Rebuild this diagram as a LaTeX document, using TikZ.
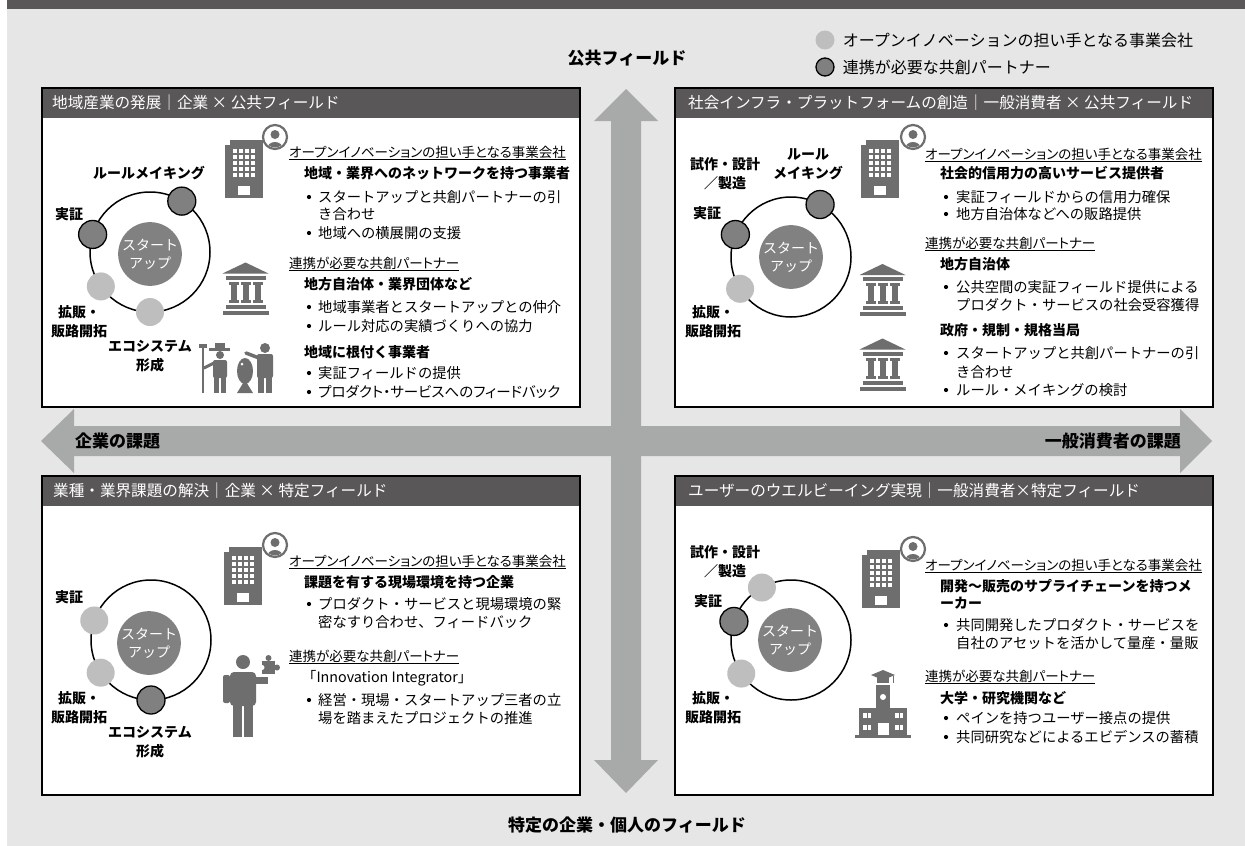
\documentclass[tikz,border=0pt]{standalone}
\usepackage{fontspec}
\setmainfont{Noto Sans CJK JP}
\newfontfamily\propjp{Noto Sans CJK JP}[RawFeature=+palt]
\usepackage{tikz}
\usetikzlibrary{positioning}

\definecolor{bandgray}{HTML}{595757}
\definecolor{fieldgray}{HTML}{E6E6E6}
\definecolor{axisgray}{HTML}{A8A9A9}
\definecolor{icongray}{HTML}{6E6E6E}
\definecolor{partnergray}{HTML}{808080}
\definecolor{bearergray}{HTML}{BEBEBE}
\definecolor{coregray}{HTML}{818181}

\newcommand{\pts}[2]{\fontsize{#1}{#2}\selectfont}

% small icons used in several panels
\tikzset{
    office/.pic={
        \fill[icongray] (-19,-24) rectangle (19,29);
        \fill[icongray] (-14,-29) rectangle (19,-24);
        \foreach \c in {-11,-5,1,7}
            \foreach \r in {-20,-14,-8,-2,4}
                \fill[white] (\c,\r) rectangle ++(4,4);
        \fill[white] (-6,17) rectangle (6,26);
    },
    badge/.pic={
        \draw[icongray, line width=2.2pt, fill=white] (0,0) circle (12);
        \begin{scope}
            \clip (0,0) circle (10.5);
            \fill[icongray] (0,-2.5) circle (4.5);
            \fill[icongray] (0,12) ellipse (8 and 7);
        \end{scope}
    },
    govhall/.pic={
        \fill[icongray] (0,-26) -- (23,-15) -- (-23,-15) -- cycle;
        \fill[icongray] (-20,-13) rectangle (20,-9);
        \foreach \c in {-12,0,12} {
            \fill[icongray] (\c-5,-7) rectangle (\c+5,-4);
            \fill[icongray] (\c-3,-4) rectangle (\c+3,11);
            \fill[icongray] (\c-5,11) rectangle (\c+5,14);
        }
        \fill[icongray] (-20,16) rectangle (20,20);
        \fill[icongray] (-23,22) rectangle (23,26);
    }
}

\begin{document}
\begin{tikzpicture}[
    x=1pt, y=-1pt,
    panel/.style={draw=black, line width=1.5pt, fill=white, minimum width=538pt, minimum height=319pt, inner sep=0pt, outer sep=0pt, anchor=north west},
    bandtext/.style={anchor=west, text=white, font=\pts{15.6}{19}, inner sep=0pt},
    ring/.style={circle, draw=black, line width=1.5pt, minimum size=120pt, inner sep=0pt, outer sep=0pt},
    partner/.style={circle, draw=black, line width=1.3pt, fill=partnergray, minimum size=28pt, inner sep=0pt},
    bearer/.style={circle, fill=bearergray, minimum size=28pt, inner sep=0pt},
    core/.style={circle, fill=coregray, text=white, minimum size=57pt, inner sep=0pt, align=center, font=\pts{14}{18}},
    stage/.style={align=center, font=\bfseries\pts{14}{19}, inner sep=0pt},
    role/.style={anchor=west, inner sep=0pt, font=\propjp\pts{13.5}{17}},
    lead/.style={anchor=west, inner sep=0pt, font=\bfseries\pts{14}{17}},
    item/.style={anchor=west, inner sep=0pt, font=\pts{14.3}{17}},
    bul/.style={circle, fill=black, minimum size=4.2pt, inner sep=0pt},
    axislabel/.style={font=\bfseries\pts{17}{20}, inner sep=0pt},
    legend/.style={font=\pts{16}{19}, inner sep=0pt}
]
    \useasboundingbox (0,0) rectangle (1245,846);
    \fill[fieldgray] (7,9) rectangle (1245,846);
    \fill[bandgray] (7,0) rectangle (1245,9);

    % axes
    \fill[axisgray] (626,89) -- (658,121) -- (641,121) -- (641,760) -- (658,760) -- (626,793)
        -- (594,760) -- (611,760) -- (611,121) -- (594,121) -- cycle;
    \fill[axisgray] (41,441) -- (74,409) -- (74,426) -- (1180,426) -- (1180,409) -- (1212,441)
        -- (1180,473) -- (1180,456) -- (74,456) -- (74,473) -- cycle;

    \node[axislabel] (ax-top) at (627,58) {公共フィールド};
    \node[axislabel] (ax-bottom) at (627,825) {特定の企業・個人のフィールド};
    \node[axislabel, anchor=west] (ax-left) at (75,441) {企業の課題};
    \node[axislabel, anchor=east] (ax-right) at (1181,441) {一般消費者の課題};

    % legend
    \node[bearer, minimum size=19pt] (leg-bearer) at (825,40) {};
    \node[partner, minimum size=18pt] (leg-partner) at (825,67) {};
    \node[legend, right=8pt of leg-bearer] (leg-bearer-text) {オープンイノベーションの担い手となる事業会社};
    \node[legend, right=8pt of leg-partner] (leg-partner-text) {連携が必要な共創パートナー};

    % ---------- top left ----------
    \node[panel] (tl) at (42,88) {};
    \fill[bandgray] (42,88) rectangle (580,118);
    \draw[line width=1.5pt] (tl.north west) rectangle (tl.south east);
    \node[bandtext] (tl-title) at (52,103) {地域産業の発展｜企業 × 公共フィールド};

    \node[ring] (tl-ring) at (150,252) {};
    \node[core] (tl-core) at (150,254) {スタート\\アップ};
    \node[partner] (tl-demo) at (tl-ring.163) {};
    \node[partner] (tl-rule) at (tl-ring.58) {};
    \node[bearer] (tl-sales) at (tl-ring.215) {};
    \node[bearer] (tl-eco) at (tl-ring.270) {};
    \node[stage] (tl-demo-l) at (69,214) {実証};
    \node[stage] (tl-rule-l) at (149,173) {ルールメイキング};
    \node[stage] (tl-sales-l) at (79,322) {拡販・\\販路開拓};
    \node[stage] (tl-eco-l) at (150,356) {エコシステム\\形成};

    \pic at (243.5,169) {office};
    \pic at (275,137) {badge};
    \pic at (245.5,288.5) {govhall};

    % farmer, fish and guide
    \draw[icongray, line width=2pt] (203,347) -- (203,393);
    \fill[icongray] (199,344) rectangle (207,348);
    \fill[icongray] (209,348) rectangle (230,351);
    \fill[icongray] (215,343) rectangle (225,349);
    \fill[icongray] (220,355) circle (4);
    \fill[icongray, rounded corners=2pt] (213,360) rectangle (227,378);
    \fill[icongray] (214,376) rectangle (219,393);
    \fill[icongray] (221,376) rectangle (226,393);
    \draw[icongray, line width=3pt, line cap=round] (214,363) -- (204,368);
    \fill[icongray] (245,371) ellipse (8 and 13);
    \fill[icongray] (245,380) -- (237,393) -- (253,393) -- cycle;
    \fill[white] (242,364) circle (1.5);
    \fill[icongray] (265,348) circle (5);
    \fill[icongray, rounded corners=2pt] (257,354) rectangle (273,378);
    \fill[icongray] (258,376) rectangle (264,393);
    \fill[icongray] (266,376) rectangle (272,393);
    \draw[icongray, line width=3.5pt, line cap=round] (259,358) -- (246,353);

    \node[role] (tl-role1) at (289,153) {\underline{オープンイノベーションの担い手となる事業会社}};
    \node[lead] (tl-lead1) at (304,173) {地域・業界へのネットワークを持つ事業者};
    \node[bul] (tl-b1) at (309,197) {};
    \node[item] (tl-i1) at (318,197) {スタートアップと共創パートナーの引};
    \node[item] (tl-i1b) at (318,214) {き合わせ};
    \node[bul] (tl-b2) at (309,233) {};
    \node[item] (tl-i2) at (318,233) {地域への横展開の支援};
    \node[role] (tl-role2) at (289,264) {\underline{連携が必要な共創パートナー}};
    \node[lead] (tl-lead2) at (304,284) {地方自治体・業界団体など};
    \node[bul] (tl-b3) at (309,307) {};
    \node[item] (tl-i3) at (318,307) {地域事業者とスタートアップとの仲介};
    \node[bul] (tl-b4) at (309,326) {};
    \node[item] (tl-i4) at (318,326) {ルール対応の実績づくりへの協力};
    \node[lead] (tl-lead3) at (304,352) {地域に根付く事業者};
    \node[bul] (tl-b5) at (309,373) {};
    \node[item] (tl-i5) at (318,373) {実証フィールドの提供};
    \node[bul] (tl-b6) at (309,392) {};
    \node[item, font=\propjp\pts{14.5}{17}] (tl-i6) at (318,392) {プロダクト・サービスへのフィードバック};

    % ---------- top right ----------
    \node[panel] (tr) at (675,88) {};
    \fill[bandgray] (675,88) rectangle (1213,118);
    \draw[line width=1.5pt] (tr.north west) rectangle (tr.south east);
    \node[bandtext] (tr-title) at (688,103) {社会インフラ・プラットフォームの創造｜一般消費者 × 公共フィールド};

    \node[ring] (tr-ring) at (791,257) {};
    \node[core] (tr-core) at (791,257) {スタート\\アップ};
    \node[partner] (tr-demo) at (tr-ring.158) {};
    \node[partner] (tr-rule) at (tr-ring.61) {};
    \node[bearer] (tr-sales) at (tr-ring.212) {};
    \node[stage] (tr-proto-l) at (725,174) {試作・設計\\／製造};
    \node[stage] (tr-rule-l) at (808,164) {ルール\\メイキング};
    \node[stage] (tr-demo-l) at (707,213) {実証};
    \node[stage] (tr-sales-l) at (713,322) {拡販・\\販路開拓};

    \pic at (880,169) {office};
    \pic at (913,137) {badge};
    \pic at (882.5,290) {govhall};
    \pic at (882.5,364.5) {govhall};

    \node[role] (tr-role1) at (925,155) {\underline{オープンイノベーションの担い手となる事業会社}};
    \node[lead] (tr-lead1) at (940,173) {社会的信用力の高いサービス提供者};
    \node[bul] (tr-b1) at (946,197) {};
    \node[item] (tr-i1) at (956,197) {実証フィールドからの信用力確保};
    \node[bul] (tr-b2) at (946,214) {};
    \node[item] (tr-i2) at (956,214) {地方自治体などへの販路提供};
    \node[role] (tr-role2) at (925,244) {\underline{連携が必要な共創パートナー}};
    \node[lead] (tr-lead2) at (940,264) {地方自治体};
    \node[bul] (tr-b3) at (946,287) {};
    \node[item] (tr-i3) at (956,287) {公共空間の実証フィールド提供による};
    \node[item] (tr-i3b) at (956,305) {プロダクト・サービスの社会受容獲得};
    \node[lead] (tr-lead3) at (940,330) {政府・規制・規格当局};
    \node[bul] (tr-b4) at (946,353) {};
    \node[item] (tr-i4) at (956,353) {スタートアップと共創パートナーの引};
    \node[item] (tr-i4b) at (956,372) {き合わせ};
    \node[bul] (tr-b5) at (946,390) {};
    \node[item] (tr-i5) at (956,390) {ルール・メイキングの検討};

    % ---------- bottom left ----------
    \node[panel] (bl) at (42,476) {};
    \fill[bandgray] (42,476) rectangle (580,506);
    \draw[line width=1.5pt] (bl.north west) rectangle (bl.south east);
    \node[bandtext] (bl-title) at (53,491) {業種・業界課題の解決｜企業 × 特定フィールド};

    \node[ring] (bl-ring) at (151,640) {};
    \node[core] (bl-core) at (149,643) {スタート\\アップ};
    \node[bearer] (bl-demo) at (bl-ring.161) {};
    \node[bearer] (bl-sales) at (bl-ring.213) {};
    \node[partner] (bl-eco) at (bl-ring.270) {};
    \node[stage] (bl-demo-l) at (69,597) {実証};
    \node[stage] (bl-sales-l) at (79,708) {拡販・\\販路開拓};
    \node[stage] (bl-eco-l) at (150,742) {エコシステム\\形成};

    \pic at (243,575.5) {office};
    \pic at (275,545) {badge};

    % integrator holding a puzzle piece
    \fill[icongray] (243,662) circle (7);
    \fill[icongray, rounded corners=4pt] (230,672) rectangle (256,706);
    \fill[icongray, rounded corners=2pt] (223,675) rectangle (230,703);
    \fill[icongray] (254,677) rectangle (268,684);
    \fill[icongray] (233,703) rectangle (242,737);
    \fill[icongray] (244,703) rectangle (253,737);
    \fill[icongray] (262,661) rectangle (275,674);
    \fill[icongray] (268.5,658) circle (3);
    \fill[icongray] (277,667.5) circle (3);
    \fill[white] (262,667.5) circle (2.5);

    \node[role] (bl-role1) at (289,562) {\underline{オープンイノベーションの担い手となる事業会社}};
    \node[lead] (bl-lead1) at (304,582) {課題を有する現場環境を持つ企業};
    \node[bul] (bl-b1) at (309,604) {};
    \node[item] (bl-i1) at (318,604) {プロダクト・サービスと現場環境の緊};
    \node[item] (bl-i1b) at (318,622) {密なすり合わせ、フィードバック};
    \node[role] (bl-role2) at (289,657) {\underline{連携が必要な共創パートナー}};
    \node[item] (bl-lead2) at (302,678) {「Innovation Integrator」};
    \node[bul] (bl-b2) at (309,700) {};
    \node[item] (bl-i2) at (318,700) {経営・現場・スタートアップ三者の立};
    \node[item] (bl-i2b) at (318,718) {場を踏まえたプロジェクトの推進};

    % ---------- bottom right ----------
    \node[panel] (br) at (675,476) {};
    \fill[bandgray] (675,476) rectangle (1213,506);
    \draw[line width=1.5pt] (br.north west) rectangle (br.south east);
    \node[bandtext] (br-title) at (688,491) {ユーザーのウエルビーイング実現｜一般消費者×特定フィールド};

    \node[ring] (br-ring) at (791,640) {};
    \node[core] (br-core) at (790,640) {スタート\\アップ};
    \node[bearer] (br-proto) at (br-ring.119) {};
    \node[partner] (br-demo) at (br-ring.162) {};
    \node[bearer] (br-sales) at (br-ring.214) {};
    \node[stage] (br-proto-l) at (725,562) {試作・設計\\／製造};
    \node[stage] (br-demo-l) at (708,601) {実証};
    \node[stage] (br-sales-l) at (713,708) {拡販・\\販路開拓};

    \pic at (880.5,579) {office};
    \pic at (913,549) {badge};

    % university with mortarboard
    \fill[icongray] (871,675) -- (883,670) -- (895,675) -- (883,680) -- cycle;
    \fill[icongray] (877,677) rectangle (889,683);
    \draw[icongray, line width=1pt] (893,675.5) -- (893,683);
    \fill[icongray] (876,685) rectangle (890,709);
    \fill[white] (883,697) circle (3);
    \fill[icongray] (859,708) rectangle (907,735);
    \foreach \wx in {863,867.5,895,899.5}
        \foreach \wy in {713,725}
            \fill[white] (\wx,\wy) rectangle ++(3.5,4.5);
    \fill[white] (878,723) rectangle (889,735);
    \fill[icongray] (855,735) rectangle (911,738);

    \node[role] (br-role1) at (925,566) {\underline{オープンイノベーションの担い手となる事業会社}};
    \node[lead] (br-lead1) at (940,586) {開発〜販売のサプライチェーンを持つメ};
    \node[lead] (br-lead1b) at (940,603) {ーカー};
    \node[bul] (br-b1) at (946,625) {};
    \node[item] (br-i1) at (956,625) {共同開発したプロダクト・サービスを};
    \node[item] (br-i1b) at (956,643) {自社のアセットを活かして量産・量販};
    \node[role] (br-role2) at (925,677) {\underline{連携が必要な共創パートナー}};
    \node[lead] (br-lead2) at (940,698) {大学・研究機関など};
    \node[bul] (br-b2) at (946,718) {};
    \node[item] (br-i2) at (956,718) {ペインを持つユーザー接点の提供};
    \node[bul] (br-b3) at (946,737) {};
    \node[item] (br-i3) at (956,737) {共同研究などによるエビデンスの蓄積};
\end{tikzpicture}
\end{document}
